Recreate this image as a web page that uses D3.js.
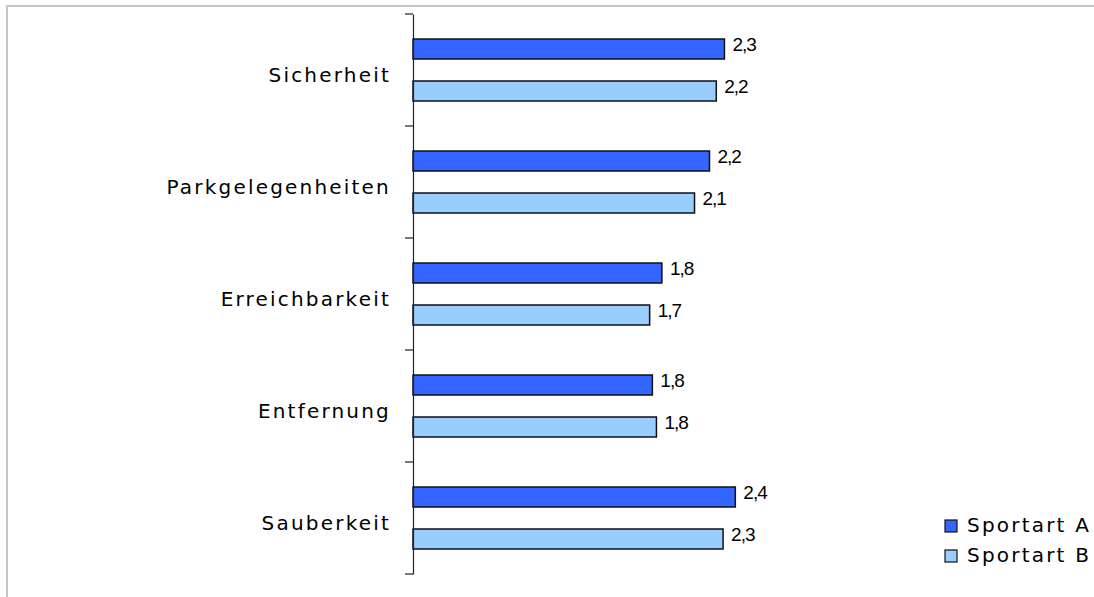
<!DOCTYPE html>
<html>
<head>
<meta charset="utf-8">
<script src="https://cdn.jsdelivr.net/npm/d3@7"></script>
<style>
  body { margin: 0; background: #fff; overflow: hidden; }
  svg { display: block; }
</style>
</head>
<body>
<svg class="chart"></svg>
<script>
const width = 1094,
  height = 597;

// data
const categories = ["Sicherheit", "Parkgelegenheiten", "Erreichbarkeit", "Entfernung", "Sauberkeit"];
const series = ["Sportart A", "Sportart B"];
const sportartA = [2.29, 2.18, 1.83, 1.76, 2.37];
const sportartB = [2.23, 2.07, 1.74, 1.79, 2.28];
const colors = ["#3366ff", "#99ccff"];

const rows = categories.map((c, i) => ({ cat: c, values: [sportartA[i], sportartB[i]] }));

let chart = d3.select(".chart")
  .attr("width", width)
  .attr("height", height);

// outer frame (only top and left are visible)
chart.append("rect")
  .attr("x", 7).attr("y", 6)
  .attr("width", width + 20).attr("height", height + 20)
  .attr("fill", "none")
  .attr("stroke", "#c6c6c6")
  .attr("stroke-width", 2);

const x0 = 413;
let x = d3.scaleLinear()
  .domain([0, 5])
  .range([x0, x0 + 680]);

let y = d3.scaleBand()
  .domain(categories)
  .range([14, 574]);

let y1 = d3.scaleBand()
  .domain(series)
  .range([0, 62])
  .paddingInner(0.524);

const groupOffset = (y.bandwidth() - 62) / 2;
const fmt = v => d3.format(".1f")(v).replace(".", ",");
const labelFont = "'DejaVu Sans', Verdana, sans-serif";

// bars
let groups = chart.append("g").selectAll("g")
  .data(rows)
  .enter().append("g")
  .attr("transform", d => `translate(0, ${y(d.cat) + groupOffset})`);

groups.selectAll("rect")
  .data(d => d.values.map((v, i) => ({ s: series[i], v: v, i: i })))
  .enter().append("rect")
  .attr("x", x(0))
  .attr("y", d => y1(d.s))
  .attr("width", d => x(d.v) - x(0))
  .attr("height", y1.bandwidth())
  .attr("fill", d => colors[d.i])
  .attr("stroke", "#111")
  .attr("stroke-width", 1.5);

groups.selectAll("text")
  .data(d => d.values.map((v, i) => ({ s: series[i], v: v })))
  .enter().append("text")
  .attr("x", d => x(d.v) + 8)
  .attr("y", d => y1(d.s) + y1.bandwidth() / 2 - 3)
  .attr("dominant-baseline", "middle")
  .style("font-family", "'Liberation Sans', Arial, sans-serif")
  .style("font-size", "19px")
  .style("letter-spacing", "-1px")
  .attr("fill", "#000")
  .text(d => fmt(d.v));

// category axis
let axis = d3.axisLeft(y)
  .tickSize(0)
  .tickPadding(22)
  .tickSizeOuter(0);

let ag = chart.append("g")
  .attr("transform", `translate(${x0}, 0)`)
  .call(axis);
ag.select(".domain").attr("stroke", "#222").attr("stroke-width", 1.2);
ag.selectAll("text")
  .attr("dy", "0.6em")
  .style("font-family", labelFont)
  .style("font-size", "20px")
  .style("letter-spacing", "2.2px")
  .attr("fill", "#000");

// tick marks at category boundaries
let bounds = categories.map(c => y(c)).concat([y.range()[1]]);
chart.append("g").selectAll("line")
  .data(bounds)
  .enter().append("line")
  .attr("x1", x0 - 8).attr("x2", x0)
  .attr("y1", d => d).attr("y2", d => d)
  .attr("stroke", "#222")
  .attr("stroke-width", 1.2);

// legend
let legend = chart.append("g").selectAll("g")
  .data(series)
  .enter().append("g")
  .attr("transform", (d, i) => `translate(945, ${526 + i * 30})`);

legend.append("rect")
  .attr("x", 0).attr("y", -6)
  .attr("width", 12).attr("height", 12)
  .attr("fill", (d, i) => colors[i])
  .attr("stroke", "#111")
  .attr("stroke-width", 1.2);

legend.append("text")
  .attr("x", 22)
  .attr("y", 0)
  .attr("dominant-baseline", "middle")
  .style("font-family", labelFont)
  .style("font-size", "20px")
  .style("letter-spacing", "2.2px")
  .attr("fill", "#000")
  .text(d => d);
</script>
</body>
</html>
